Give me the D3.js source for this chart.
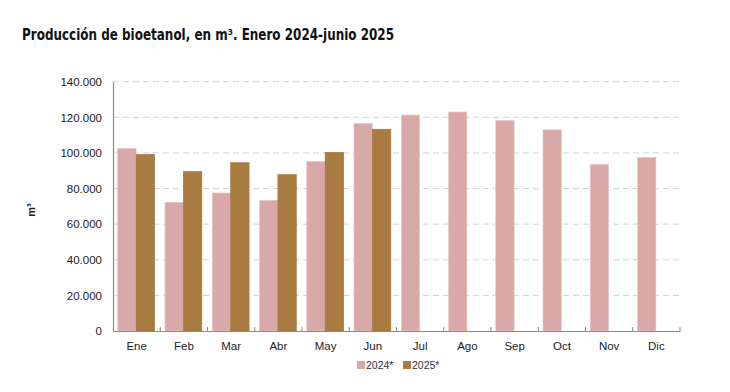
<!DOCTYPE html>
<html>
<head>
<meta charset="utf-8">
<script src="https://cdn.jsdelivr.net/npm/d3@7"></script>
<style>
  body { margin: 0; background: #fff; }
  svg { display: block; font-family: "Liberation Sans", Arial, sans-serif; }
  .title { font-family: "Liberation Sans Narrow", "DejaVu Sans Condensed", sans-serif; font-weight: bold; font-size: 15.5px; fill: #111; }
</style>
</head>
<body>
<svg id="viewer" width="730" height="392"></svg>
<script>
var months = ["Ene", "Feb", "Mar", "Abr", "May", "Jun", "Jul", "Ago", "Sep", "Oct", "Nov", "Dic"];
var prod2024 = [102600, 72300, 77500, 73400, 95300, 116600, 121300, 123000, 118300, 113000, 93600, 97500];
var prod2025 = [99200, 89500, 94500, 87800, 100300, 113300];
var yTicks = [0, 20000, 40000, 60000, 80000, 100000, 120000, 140000];
var seriesNames = ["2024*", "2025*"];
var colors = ["#d9a9aa", "#a97d42"];

var svg = d3.select('#viewer');
var mLeft = 113, mRight = 680, mTop = 81.7, mBottom = 331;

svg.append("text")
    .attr("class", "title")
    .attr("x", 22)
    .attr("y", 40)
    .attr("textLength", 372)
    .attr("lengthAdjust", "spacingAndGlyphs")
    .text("Producción de bioetanol, en m³. Enero 2024-junio 2025");

var x = d3.scaleBand()
    .domain(months)
    .range([mLeft, mRight]);

var y = d3.scaleLinear()
    .domain([0, 140000])
    .range([mBottom, mTop]);

var fmt = d => d3.format(",")(d).replace(/,/g, ".");

// grid
svg.append("g")
    .selectAll("line")
    .data(yTicks.filter(d => d > 0))
    .enter()
    .append("line")
    .attr("x1", mLeft)
    .attr("x2", mRight)
    .attr("y1", d => y(d))
    .attr("y2", d => y(d))
    .attr("stroke", "#d3d3d3")
    .attr("stroke-dasharray", "6,4");

// bars
var bw = x.bandwidth() * 0.39;
var off = x.bandwidth() * 0.1;

var series = [prod2024, prod2025];
series.forEach((vals, i) => {
    svg.append("g")
        .selectAll("rect")
        .data(vals)
        .enter()
        .append("rect")
        .attr("x", (d, j) => x(months[j]) + off + i * bw)
        .attr("width", bw)
        .attr("y", d => y(d))
        .attr("height", d => y(0) - y(d))
        .attr("fill", colors[i])
        .attr("stroke", i ? "#9a6f35" : "#ecc9ca")
        .attr("stroke-width", 0.6);
});

// y axis
var yAxis = d3.axisLeft(y).tickValues(yTicks).tickFormat(fmt).tickSize(0).tickPadding(11);
var gy = svg.append("g")
    .attr("transform", `translate(${mLeft},0)`)
    .call(yAxis);
gy.select(".domain").attr("stroke", "#8a8a8a").attr("stroke-width", 1.2);
gy.selectAll("text").attr("font-size", 11.5).attr("fill", "#222");

// x axis
var xAxis = d3.axisBottom(x).tickSize(0).tickPadding(11);
var gx = svg.append("g")
    .attr("transform", `translate(0,${mBottom})`)
    .call(xAxis);
gx.select(".domain").attr("stroke", "#8a8a8a").attr("stroke-width", 1.2);
gx.selectAll("text").attr("font-size", 11.5).attr("fill", "#222");

// boundary tick marks
gx.selectAll(".sep")
    .data(months)
    .enter()
    .append("line")
    .attr("class", "sep")
    .attr("x1", d => x(d) + x.bandwidth())
    .attr("x2", d => x(d) + x.bandwidth())
    .attr("y1", 0)
    .attr("y2", -4)
    .attr("stroke", "#8a8a8a");

// y label
svg.append("text")
    .attr("transform", "translate(35,210) rotate(-90)")
    .attr("text-anchor", "middle")
    .attr("font-size", 11)
    .attr("font-weight", "bold")
    .attr("fill", "#222")
    .text("m³");

// legend
var legend = svg.append("g")
    .attr("transform", "translate(357,361)");

var li = legend.selectAll("g")
    .data(seriesNames)
    .enter()
    .append("g")
    .attr("transform", (d, i) => `translate(${i * 46},0)`);

li.append("rect")
    .attr("width", 8)
    .attr("height", 8)
    .attr("fill", (d, i) => colors[i]);

li.append("text")
    .attr("x", 9)
    .attr("y", 8)
    .attr("font-size", 10.5)
    .attr("fill", "#333")
    .text(d => d);
</script>
</body>
</html>
